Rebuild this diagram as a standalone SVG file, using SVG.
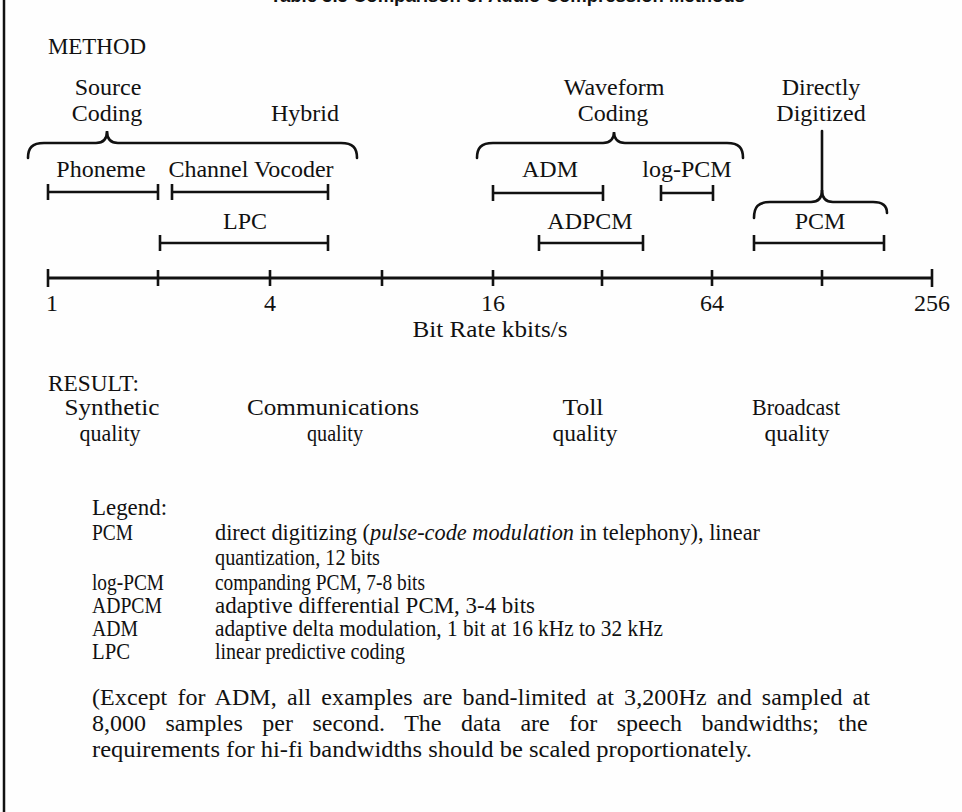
<svg xmlns="http://www.w3.org/2000/svg" width="962" height="812" viewBox="0 0 962 812">
  <style>
    text { font-family: "Liberation Serif", "Times New Roman", serif; fill: #111; }
    .lbl { font-size: 24px; text-anchor: middle; }
    .head { font-size: 24px; }
    .num { font-size: 24px; text-anchor: middle; }
    .leg { font-size: 23px; }
    .par { font-size: 24px; }
    .title { font-family: "Liberation Sans", Arial, sans-serif; font-weight: bold; font-size: 19px; }
    .bar { stroke: #111; stroke-width: 2.6; fill: none; }
    .brace { stroke: #111; stroke-width: 2.6; fill: none; stroke-linecap: round; }
    .axis { stroke: #111; stroke-width: 3; fill: none; }
  </style>

  <rect width="962" height="812" fill="#fefefe"/>

  <!-- frame edge and table title (runs off the top edge) -->
  <line x1="4" y1="0" x2="4" y2="812" stroke="#111" stroke-width="2.5"/>
  <text class="title" x="270" y="1.5" textLength="475" lengthAdjust="spacingAndGlyphs">Table 3.3  Comparison of Audio Compression Methods</text>

  <text class="head" x="48" y="54" textLength="98" lengthAdjust="spacingAndGlyphs">METHOD</text>

  <!-- category headings -->
  <g id="source-coding">
    <text class="lbl" x="108" y="95">Source</text>
    <text class="lbl" x="107" y="121">Coding</text>
  </g>
  <g id="hybrid">
    <text class="lbl" x="305" y="121">Hybrid</text>
  </g>
  <g id="waveform-coding">
    <text class="lbl" x="614" y="95">Waveform</text>
    <text class="lbl" x="613" y="121">Coding</text>
  </g>
  <g id="directly-digitized">
    <text class="lbl" x="821" y="95">Directly</text>
    <text class="lbl" x="821" y="121">Digitized</text>
  </g>

  <!-- methods with their bit-rate ranges -->
  <g id="phoneme">
    <text class="lbl" x="101" y="177">Phoneme</text>
    <path class="bar" d="M48,192 H158 M48,184 V200 M158,184 V200"/>
  </g>
  <g id="channel-vocoder">
    <text class="lbl" x="251" y="177">Channel Vocoder</text>
    <path class="bar" d="M172,192 H328 M172,184 V200 M328,184 V200"/>
  </g>
  <g id="lpc">
    <text class="lbl" x="245" y="229">LPC</text>
    <path class="bar" d="M160,243 H328 M160,235 V251 M328,235 V251"/>
  </g>
  <g id="adm">
    <text class="lbl" x="550" y="177">ADM</text>
    <path class="bar" d="M493,193 H603 M493,185 V201 M603,185 V201"/>
  </g>
  <g id="log-pcm">
    <text class="lbl" x="687" y="177">log-PCM</text>
    <path class="bar" d="M661,193 H713 M661,185 V201 M713,185 V201"/>
  </g>
  <g id="adpcm">
    <text class="lbl" x="590" y="229">ADPCM</text>
    <path class="bar" d="M539,243 H643 M539,235 V251 M643,235 V251"/>
  </g>
  <g id="pcm">
    <text class="lbl" x="820" y="229">PCM</text>
    <path class="bar" d="M754,243 H884 M754,235 V251 M884,235 V251"/>
  </g>

  <!-- grouping braces -->
  <g id="connectors">
    <path class="brace" d="M28,158 C28,148 32,143 44,143 L96,143 C103,143 107,139 107,131 C107,139 111,143 118,143 L341,143 C353,143 357,148 357,158"/>
    <path class="brace" d="M477,158 C477,148 481,143 493,143 L603,143 C610,143 614,139 614,132 C614,139 618,143 625,143 L727,143 C739,143 743,148 743,158"/>
    <path class="brace" d="M754,218 C754,207 758,202 770,202 L811,202 C818,202 822,198 822,190 C822,198 826,202 833,202 L873,202 C883,202 887,206 887,213"/>
    <line class="brace" x1="822" y1="131" x2="822" y2="191"/>
  </g>

  <!-- logarithmic bit-rate axis -->
  <g id="axis">
    <path class="axis" d="M48,278 H932"/>
    <path class="bar" d="M48,269 V287 M158,270 V286 M270,270 V286 M382,270 V286 M493,270 V286 M602,270 V286 M712,270 V286 M822,270 V286 M932,269 V287"/>
    <text class="num" x="52" y="311">1</text>
    <text class="num" x="270" y="311">4</text>
    <text class="num" x="493" y="311">16</text>
    <text class="num" x="712" y="311">64</text>
    <text class="num" x="932" y="311">256</text>
    <text class="lbl" x="490" y="337" textLength="155" lengthAdjust="spacingAndGlyphs">Bit Rate kbits/s</text>
  </g>

  <!-- quality classes -->
  <g id="result">
    <text class="head" x="48" y="391" textLength="91" lengthAdjust="spacingAndGlyphs">RESULT:</text>
    <text class="lbl" x="112" y="415" textLength="95" lengthAdjust="spacingAndGlyphs">Synthetic</text>
    <text class="lbl" x="110" y="441" textLength="61" lengthAdjust="spacingAndGlyphs">quality</text>
    <text class="lbl" x="333" y="415" textLength="172" lengthAdjust="spacingAndGlyphs">Communications</text>
    <text class="lbl" x="335" y="441" textLength="56" lengthAdjust="spacingAndGlyphs">quality</text>
    <text class="lbl" x="583" y="415" textLength="41" lengthAdjust="spacingAndGlyphs">Toll</text>
    <text class="lbl" x="585" y="441" textLength="65" lengthAdjust="spacingAndGlyphs">quality</text>
    <text class="lbl" x="796" y="415" textLength="88" lengthAdjust="spacingAndGlyphs">Broadcast</text>
    <text class="lbl" x="797" y="441" textLength="65" lengthAdjust="spacingAndGlyphs">quality</text>
  </g>

  <!-- legend -->
  <g id="legend">
    <text class="leg" x="92" y="515" textLength="75" lengthAdjust="spacingAndGlyphs">Legend:</text>
    <text class="leg" x="92" y="540" textLength="41" lengthAdjust="spacingAndGlyphs">PCM</text>
    <text class="leg" x="215" y="540" textLength="545" lengthAdjust="spacingAndGlyphs">direct digitizing (<tspan font-style="italic">pulse-code modulation</tspan> in telephony), linear</text>
    <text class="leg" x="215" y="565" textLength="165" lengthAdjust="spacingAndGlyphs">quantization, 12 bits</text>
    <text class="leg" x="92" y="590" textLength="72" lengthAdjust="spacingAndGlyphs">log-PCM</text>
    <text class="leg" x="215" y="590" textLength="210" lengthAdjust="spacingAndGlyphs">companding PCM, 7-8 bits</text>
    <text class="leg" x="92" y="613" textLength="70" lengthAdjust="spacingAndGlyphs">ADPCM</text>
    <text class="leg" x="215" y="613" textLength="320" lengthAdjust="spacingAndGlyphs">adaptive differential PCM, 3-4 bits</text>
    <text class="leg" x="92" y="636" textLength="46" lengthAdjust="spacingAndGlyphs">ADM</text>
    <text class="leg" x="215" y="636" textLength="448" lengthAdjust="spacingAndGlyphs">adaptive delta modulation, 1 bit at 16 kHz to 32 kHz</text>
    <text class="leg" x="92" y="659" textLength="38" lengthAdjust="spacingAndGlyphs">LPC</text>
    <text class="leg" x="215" y="659" textLength="190" lengthAdjust="spacingAndGlyphs">linear predictive coding</text>
  </g>

  <!-- footnote -->
  <g id="note">
    <text class="par" x="92" y="705" textLength="778" lengthAdjust="spacing" word-spacing="4">(Except for ADM, all examples are band-limited at 3,200Hz and sampled at</text>
    <text class="par" x="92" y="731" word-spacing="13.5">8,000 samples per second. The data are for speech bandwidths; the</text>
    <text class="par" x="92" y="757" textLength="660" lengthAdjust="spacingAndGlyphs">requirements for hi-fi bandwidths should be scaled proportionately.</text>
  </g>
</svg>
